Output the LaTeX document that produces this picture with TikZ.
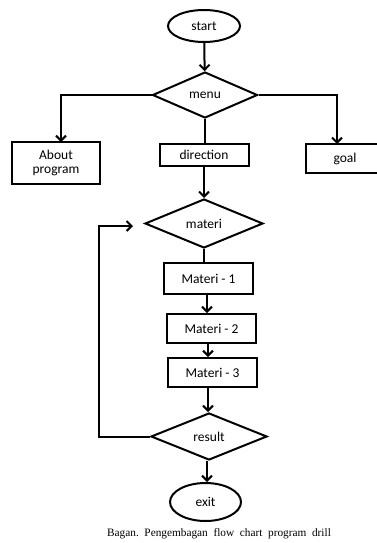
\documentclass[tikz,border=0pt]{standalone}
\usepackage{fontspec}
\setmainfont{Carlito}
\newfontfamily\capfont{Liberation Serif}
\usetikzlibrary{shapes.geometric,arrows.meta}
\begin{document}
\begin{tikzpicture}[x=1pt,y=-1pt,
  every node/.style={font=\fontsize{13.5}{15}\selectfont, inner sep=0pt},
  line/.style={line width=2pt},
  arr/.style={line width=2pt,-{Straight Barb[length=5pt,width=10pt,line width=2pt]}},
  term/.style={ellipse,draw,line width=2pt,minimum width=#1},
  dec/.style={diamond,draw,line width=2pt},
  proc/.style={rectangle,draw,line width=2pt,align=center}]
\useasboundingbox (0,0) rectangle (377,543);
\clip (0,0) rectangle (377,543);
\node[term=72pt,minimum height=32pt] (start) at (204,26) {start};
\node[dec,minimum width=105pt,minimum height=46pt,aspect=2.28] (menu) at (205,95) {menu};
\node[proc,minimum width=88pt,minimum height=42pt] (about) at (56,163) {About\\[-1pt]program};
\node[proc,minimum width=89pt,minimum height=22pt] (dir) at (204,155) {direction};
\node[proc,minimum width=78pt,minimum height=29pt] (goal) at (345,158.5) {goal};
\node[dec,minimum width=118pt,minimum height=49pt,aspect=2.4] (materi) at (204,223.5) {materi};
\node[proc,minimum width=89pt,minimum height=31pt] (m1) at (208.5,278.5) {Materi - 1};
\node[proc,minimum width=89pt,minimum height=29pt] (m2) at (211.5,328.5) {Materi - 2};
\node[proc,minimum width=89pt,minimum height=29pt] (m3) at (212.5,372.5) {Materi - 3};
\node[dec,minimum width=116pt,minimum height=47pt,aspect=2.47] (result) at (209,436.5) {result};
\node[term=71pt,minimum height=38pt] (exit) at (205.5,502) {exit};
\node[font=\capfont\fontsize{11.3}{13}\selectfont] (cap) at (219,534) {Bagan.\ \ Pengembagan\ \ flow\ \ chart\ \ program\ \ drill};
\coordinate (loopin) at (133,226);
\draw[arr] (start) -- (menu);
\draw[arr] (menu.west) -| (61,142);
\draw[arr] (menu.east) -| (337,144);
\draw[line] (menu.south) -- (dir.north -| menu.south);
\draw[arr] (dir) -- (materi.north);
\draw[line] (materi.south) -- (m1.north -| materi.south);
\draw[arr] (m1.south -| 207,0) -- (m2.north -| 207,0);
\draw[arr] (m2.south -| 208,0) -- (m3.north -| 208,0);
\draw[arr] (m3.south -| 208,0) -- (result.north -| 208,0);
\draw[arr] (result.south -| 207,0) -- (exit.north -| 207,0);
\draw[arr] (result.west) -| (99,226) -- (loopin);
\end{tikzpicture}
\end{document}
